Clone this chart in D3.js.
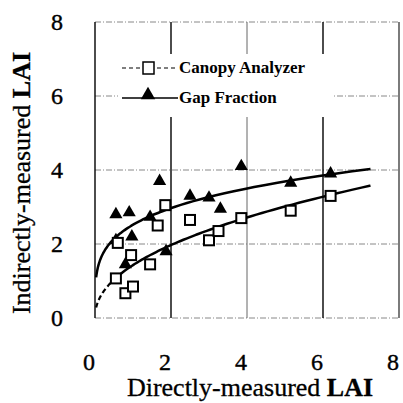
<!DOCTYPE html>
<html>
<head>
<meta charset="utf-8">
<script src="https://cdn.jsdelivr.net/npm/d3@7"></script>
<style>
body { margin: 0; background: #fff; }
</style>
</head>
<body>
<div id="chart"></div>
<script>
// values
var canopyX = [0.55, 0.6, 0.95, 1.45, 0.8, 1.0, 1.65, 1.85, 2.5, 3.0, 3.25, 3.85, 5.15, 6.2];
var canopyY = [1.07, 2.03, 1.7, 1.45, 0.67, 0.85, 2.5, 3.05, 2.65, 2.1, 2.35, 2.7, 2.9, 3.3];
var gapX = [0.55, 0.9, 1.7, 1.45, 0.97, 0.55, 0.8, 1.87, 2.5, 3.0, 3.3, 3.85, 5.15, 6.2];
var gapY = [2.8, 2.85, 3.7, 2.73, 2.2, 2.1, 1.45, 1.8, 3.3, 3.25, 2.95, 4.1, 3.65, 3.9];
// power trend lines y = a * x^b
var canopyFit = [1.43, 0.463];
var gapFit = [2.52, 0.237];
var fitRange = [0.03, 7.25];
var xTicks = [0, 2, 4, 6, 8];
var yTicks = [0, 2, 4, 6, 8];
var seriesNames = ["Canopy Analyzer", "Gap Fraction"];

var serif = "'Liberation Serif'";

var svgWidth = 403, svgHeight = 403;
var margins = { top: 22, right: 4, bottom: 85, left: 95 };
var width = svgWidth - margins.left - margins.right;
var height = svgHeight - margins.top - margins.bottom;

var svg = d3.select("#chart")
    .append("svg")
    .attr("width", svgWidth)
    .attr("height", svgHeight);

var chartGroup = svg.append("g")
    .attr("transform", `translate(${margins.left},${margins.top})`);

var xScale = d3.scaleLinear().domain([0, 8]).range([0, width]);
var yScale = d3.scaleLinear().domain([0, 8]).range([height, 0]);

// grid lines
chartGroup.selectAll(".hgrid")
    .data(yTicks)
    .enter()
    .append("line")
    .attr("x1", 0)
    .attr("x2", width)
    .attr("y1", d => yScale(d))
    .attr("y2", d => yScale(d))
    .attr("stroke", "#888")
    .attr("stroke-width", 1)
    .attr("stroke-dasharray", "6,2,1,2");

chartGroup.selectAll(".vgrid")
    .data(xTicks)
    .enter()
    .append("line")
    .attr("x1", d => xScale(d))
    .attr("x2", d => xScale(d))
    .attr("y1", 0)
    .attr("y2", height)
    .attr("stroke", d => d == 4 ? "#666" : (d == 8 ? "#444" : "#000"))
    .attr("stroke-width", d => d == 4 ? 1 : 1.4);

// legend background hides the grid
chartGroup.append("rect")
    .attr("x", 23)
    .attr("y", 32)
    .attr("width", 214)
    .attr("height", 63)
    .attr("fill", "#fff");

// trend lines
function fitPoints(fit, lo, hi) {
    var pts = [];
    var n = 80;
    for (var i = 0; i <= n; i++) {
        var x = lo * Math.pow(hi / lo, i / n);
        pts.push([x, fit[0] * Math.pow(x, fit[1])]);
    }
    return pts;
}
var line = d3.line()
    .x(d => xScale(d[0]))
    .y(d => yScale(d[1]))
    .curve(d3.curveMonotoneX);

chartGroup.append("path")
    .attr("d", line(fitPoints(canopyFit, fitRange[0], 0.5)))
    .attr("fill", "none")
    .attr("stroke", "#000")
    .attr("stroke-width", 2.2)
    .attr("stroke-dasharray", "5,3");
chartGroup.append("path")
    .attr("d", line(fitPoints(canopyFit, 0.5, fitRange[1])))
    .attr("fill", "none")
    .attr("stroke", "#000")
    .attr("stroke-width", 2.5);
chartGroup.append("path")
    .attr("d", line(fitPoints(gapFit, fitRange[0], fitRange[1])))
    .attr("fill", "none")
    .attr("stroke", "#000")
    .attr("stroke-width", 2.5);

// markers
var triangle = d3.symbol().type(d3.symbolTriangle).size(75);

chartGroup.selectAll(".gap")
    .data(gapX)
    .enter()
    .append("path")
    .attr("d", triangle)
    .attr("transform", (d, i) => `translate(${xScale(d)},${yScale(gapY[i])})`)
    .attr("fill", "#000");

chartGroup.selectAll(".canopy")
    .data(canopyX)
    .enter()
    .append("rect")
    .attr("x", d => xScale(d) - 5)
    .attr("y", (d, i) => yScale(canopyY[i]) - 5)
    .attr("width", 10)
    .attr("height", 10)
    .attr("fill", "#fff")
    .attr("stroke", "#000")
    .attr("stroke-width", 2);

// legend
var legend = chartGroup.append("g");
legend.append("line")
    .attr("x1", 27).attr("x2", 81)
    .attr("y1", 46).attr("y2", 46)
    .attr("stroke", "#000")
    .attr("stroke-width", 1.2)
    .attr("stroke-dasharray", "4,3");
legend.append("rect")
    .attr("x", 48).attr("y", 40)
    .attr("width", 11).attr("height", 12)
    .attr("fill", "#fff")
    .attr("stroke", "#000")
    .attr("stroke-width", 1.5);
legend.append("line")
    .attr("x1", 27).attr("x2", 83)
    .attr("y1", 76).attr("y2", 76)
    .attr("stroke", "#000")
    .attr("stroke-width", 1.5);
legend.append("path")
    .attr("d", d3.symbol().type(d3.symbolTriangle).size(90))
    .attr("transform", "translate(53,73)")
    .attr("fill", "#000");
legend.selectAll("text")
    .data(seriesNames)
    .enter()
    .append("text")
    .attr("x", 84)
    .attr("y", (d, i) => 51 + i * 30)
    .style("font-family", serif)
    .style("font-size", "17px")
    .style("font-weight", "bold")
    .text(d => d);

// tick labels
svg.selectAll(".xlab")
    .data(xTicks)
    .enter()
    .append("text")
    .attr("x", d => margins.left + xScale(d) - 6)
    .attr("y", 370)
    .style("font-family", serif)
    .style("font-size", "24px")
    .style("text-anchor", "middle")
    .style("stroke", "#000")
    .style("stroke-width", 0.4)
    .text(d => d);

svg.selectAll(".ylab")
    .data(yTicks)
    .enter()
    .append("text")
    .attr("x", 57)
    .attr("y", d => margins.top + yScale(d) + 8)
    .style("font-family", serif)
    .style("font-size", "24px")
    .style("text-anchor", "middle")
    .style("stroke", "#000")
    .style("stroke-width", 0.4)
    .text(d => d);

// axis titles
var xTitle = svg.append("text")
    .attr("x", 250)
    .attr("y", 396)
    .style("font-family", serif)
    .style("font-size", "26px")
    .style("text-anchor", "middle")
    .style("stroke", "#000")
    .style("stroke-width", 0.3);
xTitle.append("tspan").text("Directly-measured ");
xTitle.append("tspan").style("font-weight", "bold").text("LAI");

var yTitle = svg.append("text")
    .attr("transform", "rotate(-90)")
    .attr("x", -183)
    .attr("y", 30)
    .style("font-family", serif)
    .style("font-size", "26px")
    .style("text-anchor", "middle")
    .style("stroke", "#000")
    .style("stroke-width", 0.3);
yTitle.append("tspan").text("Indirectly-measured ");
yTitle.append("tspan").style("font-weight", "bold").text("LAI");
</script>
</body>
</html>
